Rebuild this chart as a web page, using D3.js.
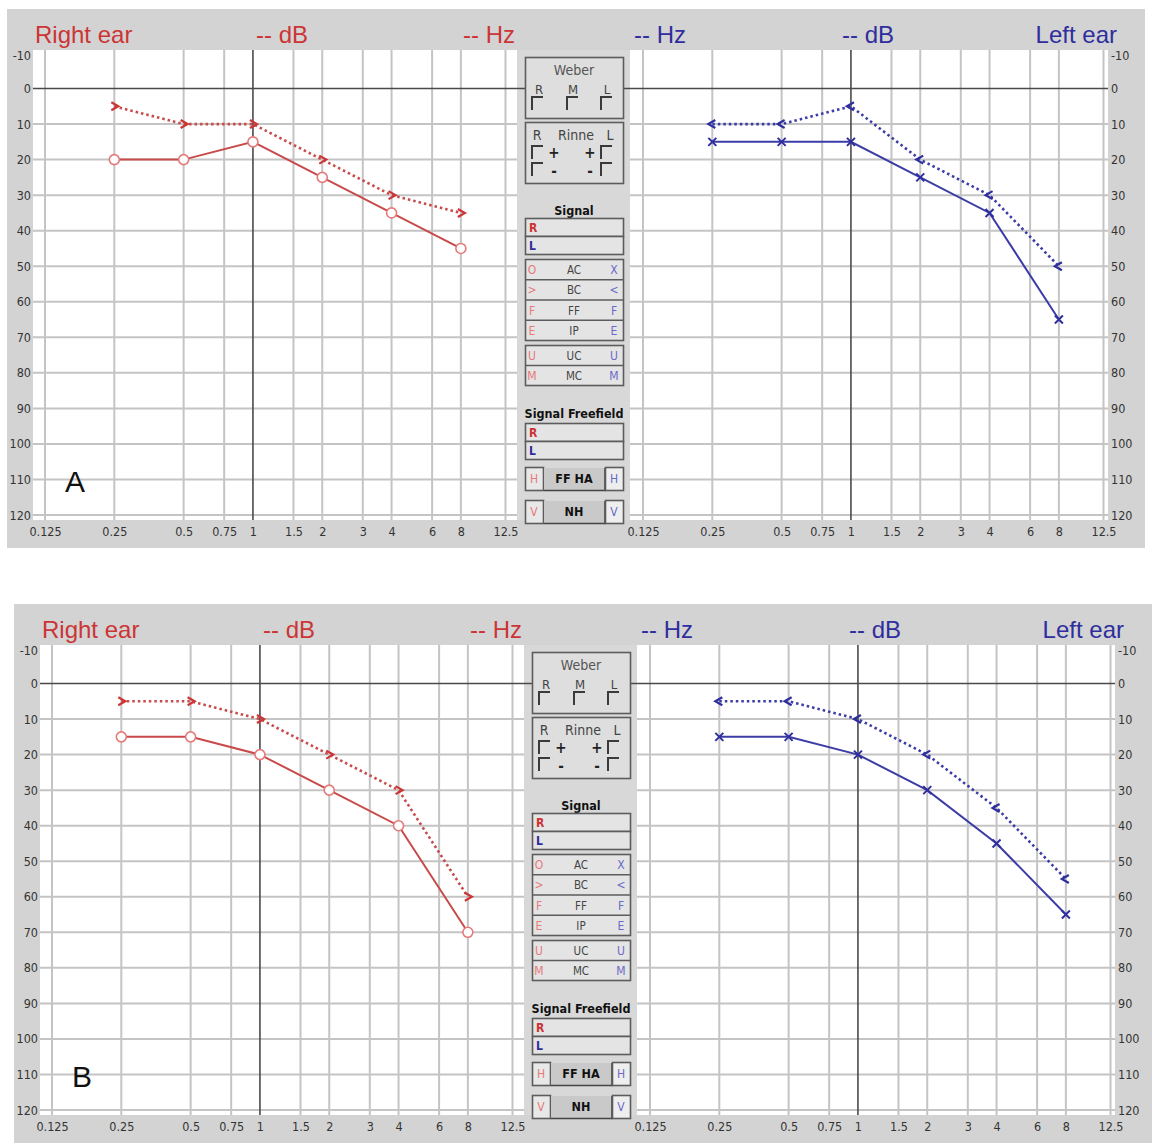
<!DOCTYPE html>
<html><head><meta charset="utf-8">
<script src="https://cdn.jsdelivr.net/npm/d3@7"></script>
<style>body{margin:0;background:#fff}svg{display:block}</style>
</head><body>
<svg id="c" width="1153" height="1144"></svg>
<script>
// ---------- data ----------
const freqTicks = [0.125,0.25,0.5,0.75,1,1.5,2,3,4,6,8,12.5];
const freqLabels = ["0.125","0.25","0.5","0.75","1","1.5","2","3","4","6","8","12.5"];
const dbTicks = [-10,0,10,20,30,40,50,60,70,80,90,100,110,120];
const dbLabels = ["-10","0","10","20","30","40","50","60","70","80","90","100","110","120"];
const testFreqs = [0.25,0.5,1,2,4,8];
// Panel A
const aRightAC = [20,20,15,25,35,45];
const aRightBC = [5,10,10,20,30,35];
const aLeftAC  = [15,15,15,25,35,65];
const aLeftBC  = [10,10,5,20,30,50];
// Panel B
const bRightAC = [15,15,20,30,40,70];
const bRightBC = [5,5,10,20,30,60];
const bLeftAC  = [15,15,20,30,45,65];
const bLeftBC  = [5,5,10,20,35,55];

// ---------- styles ----------
const RED = "#cc3535", RED_LINE = "#c84a4a", RED_LIGHT = "#e67a7a";
const BLUE = "#2e2e9e", BLUE_LINE = "#3c3ca6", BLUE_LIGHT = "#6a6ac8";
const PANEL = "#d3d3d3", GRID = "#c4c4c4", DARK = "#4a4a4a";
const NARROW = "'Liberation Sans Narrow','Arial Narrow','DejaVu Sans Condensed','Liberation Sans',sans-serif";
const SANS = "'Liberation Sans',Arial,sans-serif";

const svg = d3.select("#c");

const y = d3.scaleLinear().domain([-10,120]).range([53,515]);
const xR = d3.scaleLog().base(2).domain([0.125,12.5]).range([45,505.5]);
const xL = d3.scaleLog().base(2).domain([0.125,12.5]).range([643,1103.5]);

function txt(g,x,yy,s,size,color,anchor,opts){
  opts = opts||{};
  return g.append("text").attr("x",x).attr("y",yy).text(s)
    .attr("font-size",size).attr("fill",color).attr("text-anchor",anchor||"start")
    .attr("font-family",opts.family||NARROW).attr("font-weight",opts.weight||"normal");
}

function plot(g, x, x0, x1, side){
  g.append("rect").attr("x",x0).attr("y",50).attr("width",x1-x0).attr("height",470).attr("fill","#fff");
  g.selectAll(null).data(dbTicks.filter(d=>d!==-10 && d!==0)).enter().append("line")
    .attr("x1",x0).attr("x2",x1).attr("y1",d=>y(d)).attr("y2",d=>y(d))
    .attr("stroke",GRID).attr("stroke-width",2);
  g.selectAll(null).data(freqTicks.filter(f=>f!==1)).enter().append("line")
    .attr("x1",d=>x(d)).attr("x2",d=>x(d)).attr("y1",50).attr("y2",520)
    .attr("stroke",GRID).attr("stroke-width",2);
  g.append("line").attr("x1",x(1)).attr("x2",x(1)).attr("y1",50).attr("y2",520)
    .attr("stroke",DARK).attr("stroke-width",1.6);
  const ax = d3.axisBottom(x).tickValues(freqTicks).tickFormat((d,i)=>freqLabels[i]).tickSize(0).tickPadding(0);
  const axg = g.append("g").attr("transform","translate(0,527)").call(ax);
  axg.select(".domain").remove();
  axg.selectAll("text").attr("font-size",12.5).attr("fill","#333").attr("font-family",NARROW).attr("dy","0.71em");
  const ay = (side==="R"? d3.axisLeft(y):d3.axisRight(y)).tickValues(dbTicks).tickFormat((d,i)=>dbLabels[i]).tickSize(0).tickPadding(0);
  const ayg = g.append("g").attr("transform", side==="R" ? "translate(31,0)" : "translate(1111,0)").call(ay);
  ayg.select(".domain").remove();
  ayg.selectAll("text").attr("font-size",12.5).attr("fill","#333").attr("font-family",NARROW);
  ayg.selectAll(".tick").filter(d=>d===-10).select("text").attr("dy","0.5em");
}

function series(g, x, vals, color, dashed, marker, mcolor){
  const line = d3.line().x((d,i)=>x(testFreqs[i])).y(d=>y(d));
  g.append("path").datum(vals).attr("d",line).attr("fill","none")
    .attr("stroke",color).attr("stroke-width",dashed?2.6:2)
    .attr("stroke-dasharray",dashed?"2.5,3":null);
  const m = g.selectAll(null).data(vals).enter().append("g")
    .attr("transform",(d,i)=>`translate(${x(testFreqs[i])},${y(d)})`);
  if(marker==="O"){
    m.append("circle").attr("r",5).attr("fill","#fff").attr("stroke",mcolor).attr("stroke-width",1.6);
  } else if(marker==="X"){
    m.append("path").attr("d","M-4,-4L4,4M-4,4L4,-4").attr("stroke",mcolor).attr("stroke-width",2).attr("fill","none");
  } else if(marker===">"){
    m.append("path").attr("d","M-3,-4L4,0L-3,4").attr("stroke",mcolor).attr("stroke-width",2.2).attr("fill","none");
  } else if(marker==="<"){
    m.append("path").attr("d","M3,-4L-4,0L3,4").attr("stroke",mcolor).attr("stroke-width",2.2).attr("fill","none");
  }
}

function box(g,x,yy,w,h,fill){
  return g.append("rect").attr("x",x+0.5).attr("y",yy+0.5).attr("width",w).attr("height",h)
    .attr("fill",fill||"none").attr("stroke","#5c5c5c").attr("stroke-width",1.6);
}
function corner(g,x,yy){
  g.append("path").attr("d",`M${x},${yy+13}V${yy}H${x+11}`).attr("fill","none").attr("stroke","#3a3a3a").attr("stroke-width",2);
}

function middle(g){
  const bx=525,bw=98,cx=574;
  box(g,bx,57,bw,61,"#dedede");
  txt(g,cx,75,"Weber",14,"#555","middle");
  txt(g,539,94,"R",13,"#444","middle");
  txt(g,573,94,"M",13,"#444","middle");
  txt(g,607,94,"L",13,"#444","middle");
  corner(g,532,97); corner(g,567,97); corner(g,601,97);
  box(g,bx,122,bw,61,"#dedede");
  txt(g,537,140,"R",14,"#444","middle");
  txt(g,576,140,"Rinne",14,"#444","middle");
  txt(g,610,140,"L",14,"#444","middle");
  corner(g,532,146); corner(g,601,146); corner(g,532,163); corner(g,601,163);
  txt(g,554,158,"+",15,"#222","middle",{weight:"bold"});
  txt(g,590,158,"+",15,"#222","middle",{weight:"bold"});
  txt(g,554,176,"-",15,"#222","middle",{weight:"bold"});
  txt(g,590,176,"-",15,"#222","middle",{weight:"bold"});
  txt(g,cx,215,"Signal",12.5,"#111","middle",{weight:"bold"});
  box(g,bx,218,bw,18,"#e4e4e4"); box(g,bx,236,bw,18,"#e4e4e4");
  txt(g,529,232,"R",12,RED,"start",{weight:"bold"});
  txt(g,529,250,"L",12,BLUE,"start",{weight:"bold"});
  const rows1=[["O","AC","X"],[">","BC","<"],["F","FF","F"],["E","IP","E"]];
  box(g,bx,259,bw,81,"#e4e4e4");
  rows1.forEach((r,i)=>{
    const yy=259+i*20.25;
    if(i>0) g.append("line").attr("x1",bx).attr("x2",bx+bw).attr("y1",yy+0.5).attr("y2",yy+0.5).attr("stroke","#5c5c5c").attr("stroke-width",1.6);
    txt(g,532,yy+15,r[0],12,RED_LIGHT,"middle");
    txt(g,cx,yy+15,r[1],11.5,"#444","middle");
    txt(g,614,yy+15,r[2],12,BLUE_LIGHT,"middle");
  });
  const rows2=[["U","UC","U"],["M","MC","M"]];
  box(g,bx,345,bw,40,"#e4e4e4");
  rows2.forEach((r,i)=>{
    const yy=345+i*20;
    if(i>0) g.append("line").attr("x1",bx).attr("x2",bx+bw).attr("y1",yy+0.5).attr("y2",yy+0.5).attr("stroke","#5c5c5c").attr("stroke-width",1.6);
    txt(g,532,yy+15,r[0],12,RED_LIGHT,"middle");
    txt(g,cx,yy+15,r[1],11.5,"#444","middle");
    txt(g,614,yy+15,r[2],12,BLUE_LIGHT,"middle");
  });
  txt(g,cx,418,"Signal Freefield",12.5,"#111","middle",{weight:"bold"});
  box(g,bx,423,bw,18,"#e4e4e4"); box(g,bx,441,bw,18,"#e4e4e4");
  txt(g,529,437,"R",12,RED,"start",{weight:"bold"});
  txt(g,529,455,"L",12,BLUE,"start",{weight:"bold"});
  [[467,"H","FF HA","H"],[500,"V","NH","V"]].forEach(b=>{
    const yy=b[0];
    box(g,bx,yy,18,23,"#e8e8e8");
    g.append("rect").attr("x",bx+19).attr("y",yy+1).attr("width",bw-38).attr("height",22).attr("fill","#c9c9c9");
    g.append("path").attr("d",`M${bx+19},${yy+23.5}H${bx+bw-18}V${yy+1}`).attr("stroke","#444").attr("stroke-width",1.6).attr("fill","none");
    box(g,bx+bw-18,yy,18,23,"#eeeeee");
    txt(g,bx+9,yy+16,b[1],12,RED_LIGHT,"middle");
    txt(g,cx,yy+16,b[2],12.5,"#111","middle",{weight:"bold"});
    txt(g,bx+bw-9,yy+16,b[3],12,BLUE_LIGHT,"middle");
  });
}

function panel(t, d, letter){
  const g = svg.append("g").attr("transform",`translate(${t[0]},${t[1]})`);
  g.append("rect").attr("x",7).attr("y",9).attr("width",1138).attr("height",539).attr("fill",PANEL);
  g.append("rect").attr("x",517).attr("y",50).attr("width",113).attr("height",470).attr("fill","#d8d8d8");
  plot(g,xR,33,517,"R");
  plot(g,xL,630,1108,"L");
  g.append("line").attr("x1",33).attr("x2",1108).attr("y1",y(0)).attr("y2",y(0)).attr("stroke",DARK).attr("stroke-width",1.6);
  middle(g);
  txt(g,35,43,"Right ear",24,RED,"start",{family:SANS});
  txt(g,282,43,"-- dB",24,RED,"middle",{family:SANS});
  txt(g,515,43,"-- Hz",24,RED,"end",{family:SANS});
  txt(g,634,43,"-- Hz",24,BLUE,"start",{family:SANS});
  txt(g,868,43,"-- dB",24,BLUE,"middle",{family:SANS});
  txt(g,1117,43,"Left ear",24,BLUE,"end",{family:SANS});
  series(g,xR,d.rBC,RED_LINE,true,">",RED);
  series(g,xR,d.rAC,RED_LINE,false,"O",RED_LIGHT);
  series(g,xL,d.lBC,BLUE_LINE,true,"<",BLUE);
  series(g,xL,d.lAC,BLUE_LINE,false,"X",BLUE);
  txt(g,65,492,letter,30,"#111","start",{family:SANS});
}

panel([0,0],{rAC:aRightAC,rBC:aRightBC,lAC:aLeftAC,lBC:aLeftBC},"A");
panel([7,595],{rAC:bRightAC,rBC:bRightBC,lAC:bLeftAC,lBC:bLeftBC},"B");
</script>
</body></html>
